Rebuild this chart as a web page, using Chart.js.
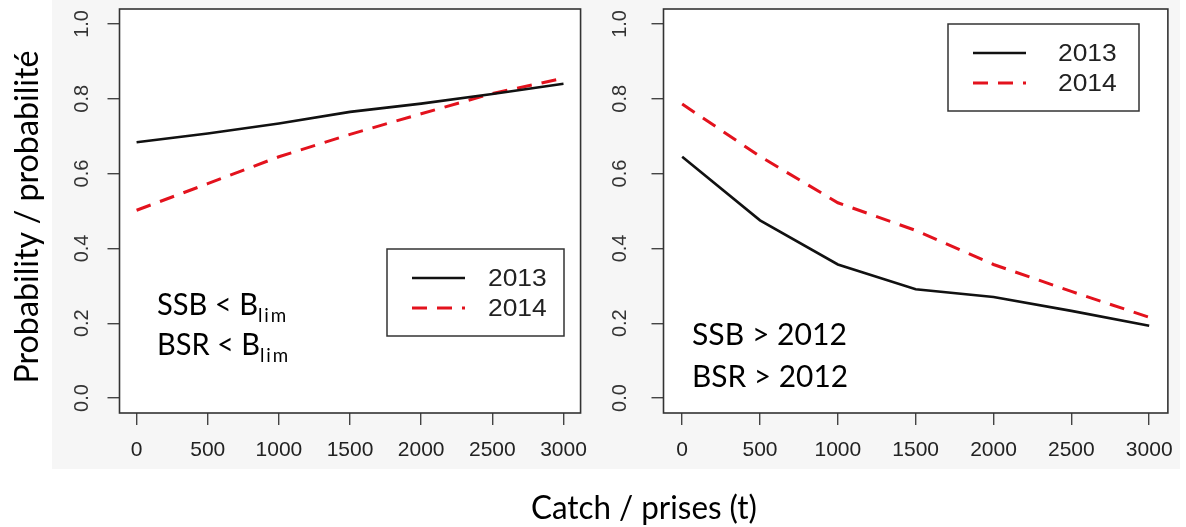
<!DOCTYPE html>
<html>
<head>
<meta charset="utf-8">
<script src="https://cdn.jsdelivr.net/npm/chart.js@4.4.1/dist/chart.umd.min.js"></script>
<style>
    body { margin: 0; width: 1186px; height: 527px; background: #fff; position: relative; overflow: hidden; }
    #bg { position: absolute; left: 52px; top: 0; width: 1128px; height: 469px; background: #f6f6f6; }
    canvas { position: absolute; top: 0; }
    #leftChart { left: 0; }
    #rightChart { left: 600px; }
    #overlay { position: absolute; left: 0; top: 0; pointer-events: none; }
    #overlay text { font-family: Lato, 'Open Sans', sans-serif; fill: #000; }
</style>
</head>
<body>
<div id="bg"></div>
<canvas id="leftChart" width="600" height="480"></canvas>
<canvas id="rightChart" width="586" height="480"></canvas>

<svg id="overlay" width="1186" height="527">
    <text transform="translate(38,217) rotate(-90)" text-anchor="middle" font-size="33" textLength="333" lengthAdjust="spacingAndGlyphs">Probability / probabilité</text>
    <text x="644" y="519" text-anchor="middle" font-size="33" textLength="226" lengthAdjust="spacingAndGlyphs">Catch / prises (t)</text>

    <text x="157" y="315" font-size="31" textLength="131" lengthAdjust="spacingAndGlyphs">SSB &lt; B<tspan font-size="20" dy="7" letter-spacing="2">lim</tspan></text>
    <text x="157" y="355" font-size="31" textLength="133" lengthAdjust="spacingAndGlyphs">BSR &lt; B<tspan font-size="20" dy="7" letter-spacing="2">lim</tspan></text>

    <text x="692" y="345" font-size="31" textLength="155" lengthAdjust="spacingAndGlyphs">SSB &gt; 2012</text>
    <text x="692" y="387" font-size="31" textLength="156" lengthAdjust="spacingAndGlyphs">BSR &gt; 2012</text>
</svg>

<script>
    // Catch levels (t) and axis ticks
    const catches = [0, 500, 1000, 1500, 2000, 2500, 3000];
    const yTicks = [0, 0.2, 0.4, 0.6, 0.8, 1.0];
    const seriesLabels = ['2013', '2014'];

    // Left panel: probability SSB < Blim
    const below2013 = [0.684, 0.707, 0.734, 0.765, 0.787, 0.813, 0.840];
    const below2014 = [0.502, 0.573, 0.645, 0.705, 0.760, 0.814, 0.855];

    // Right panel: probability SSB > 2012
    const above2013 = [0.645, 0.475, 0.357, 0.291, 0.270, 0.233, 0.193];
    const above2014 = [0.786, 0.646, 0.522, 0.448, 0.357, 0.285, 0.216];

    const RED = '#e3121d';

    function toPoints(values) {
        return catches.map((c, i) => ({ x: c, y: values[i] }));
    }

    // Frame, white plot area, rotated y labels and boxed legend
    const panelPlugin = {
        id: 'panelPlugin',
        beforeDraw(chart) {
            const a = chart.chartArea;
            const ctx = chart.ctx;
            ctx.save();
            ctx.fillStyle = '#fff';
            ctx.fillRect(a.left, a.top, a.right - a.left, a.bottom - a.top);
            ctx.restore();
        },
        afterDraw(chart, args, opts) {
            const a = chart.chartArea;
            const ctx = chart.ctx;
            ctx.save();
            ctx.strokeStyle = '#333';
            ctx.lineWidth = 1.6;
            ctx.strokeRect(a.left, a.top, a.right - a.left, a.bottom - a.top);

            // y tick labels, written along the axis like R does
            const yScale = chart.scales.y;
            ctx.fillStyle = '#333';
            ctx.font = '20px "Liberation Sans", Arial, sans-serif';
            ctx.textAlign = 'center';
            ctx.textBaseline = 'middle';
            yScale.ticks.forEach(t => {
                const py = yScale.getPixelForValue(t.value);
                ctx.save();
                ctx.translate(opts.labelX, py);
                ctx.rotate(-Math.PI / 2);
                ctx.fillText(t.value.toFixed(1), 0, 0);
                ctx.restore();
            });

            // legend box
            const lg = opts.legend;
            ctx.strokeStyle = '#333';
            ctx.lineWidth = 1.5;
            ctx.strokeRect(lg.x, lg.y, lg.w, lg.h);
            chart.data.datasets.forEach((ds, i) => {
                const ry = lg.y + 29 + i * 30;
                ctx.beginPath();
                ctx.strokeStyle = ds.borderColor;
                ctx.lineWidth = ds.borderWidth;
                ctx.setLineDash(ds.borderDash || []);
                ctx.moveTo(lg.x + 25, ry);
                ctx.lineTo(lg.x + 78, ry);
                ctx.stroke();
                ctx.setLineDash([]);
                ctx.save();
                ctx.translate(lg.x + lg.textX, ry);
                ctx.scale(1.1, 1);
                ctx.fillStyle = '#222';
                ctx.font = '24px "Liberation Sans", Arial, sans-serif';
                ctx.textAlign = 'left';
                ctx.textBaseline = 'middle';
                ctx.fillText(ds.label, 0, 1);
                ctx.restore();
            });
            ctx.restore();
        }
    };

    function makePanel(canvasId, s2013, s2014, cfg) {
        const ctx = document.getElementById(canvasId).getContext('2d');
        return new Chart(ctx, {
            type: 'line',
            data: {
                datasets: [
                    {
                        label: seriesLabels[0],
                        data: toPoints(s2013),
                        borderColor: '#111',
                        borderWidth: 2.6,
                        pointRadius: 0,
                        tension: 0,
                        fill: false
                    },
                    {
                        label: seriesLabels[1],
                        data: toPoints(s2014),
                        borderColor: RED,
                        borderWidth: 3,
                        borderDash: [15, 10],
                        pointRadius: 0,
                        tension: 0,
                        fill: false
                    }
                ]
            },
            options: {
                responsive: false,
                animation: false,
                layout: { padding: { left: 0, right: cfg.rightPad, top: 9, bottom: 0 } },
                plugins: {
                    legend: { display: false },
                    tooltip: { enabled: false },
                    panelPlugin: { labelX: cfg.labelX, legend: cfg.legend }
                },
                scales: {
                    x: {
                        type: 'linear',
                        min: -120,
                        max: 3120,
                        afterBuildTicks: s => { s.ticks = catches.map(v => ({ value: v })); },
                        afterFit: s => { s.height = 67; },
                        border: { display: false },
                        grid: { drawOnChartArea: false, drawTicks: true, tickLength: 12, color: '#444', lineWidth: 1.4 },
                        ticks: {
                            autoSkip: false,
                            maxRotation: 0,
                            padding: 13,
                            color: '#222',
                            font: { family: '"Liberation Sans", Arial, sans-serif', size: 21 },
                            callback: v => String(v)
                        }
                    },
                    y: {
                        min: -0.04,
                        max: 1.04,
                        afterBuildTicks: s => { s.ticks = yTicks.map(v => ({ value: v })); },
                        afterFit: s => { s.width = cfg.yWidth; },
                        border: { display: false },
                        grid: { drawOnChartArea: false, drawTicks: true, tickLength: 12, color: '#444', lineWidth: 1.4 },
                        ticks: { display: false }
                    }
                }
            },
            plugins: [panelPlugin]
        });
    }

    makePanel('leftChart', below2013, below2014, {
        yWidth: 119.5, rightPad: 4, labelX: 82,
        legend: { x: 387, y: 249, w: 177, h: 87, textX: 101 }
    });

    makePanel('rightChart', above2013, above2014, {
        yWidth: 63.5, rightPad: 12, labelX: 20,
        legend: { x: 348, y: 24, w: 191, h: 87, textX: 110 }
    });
</script>
</body>
</html>
